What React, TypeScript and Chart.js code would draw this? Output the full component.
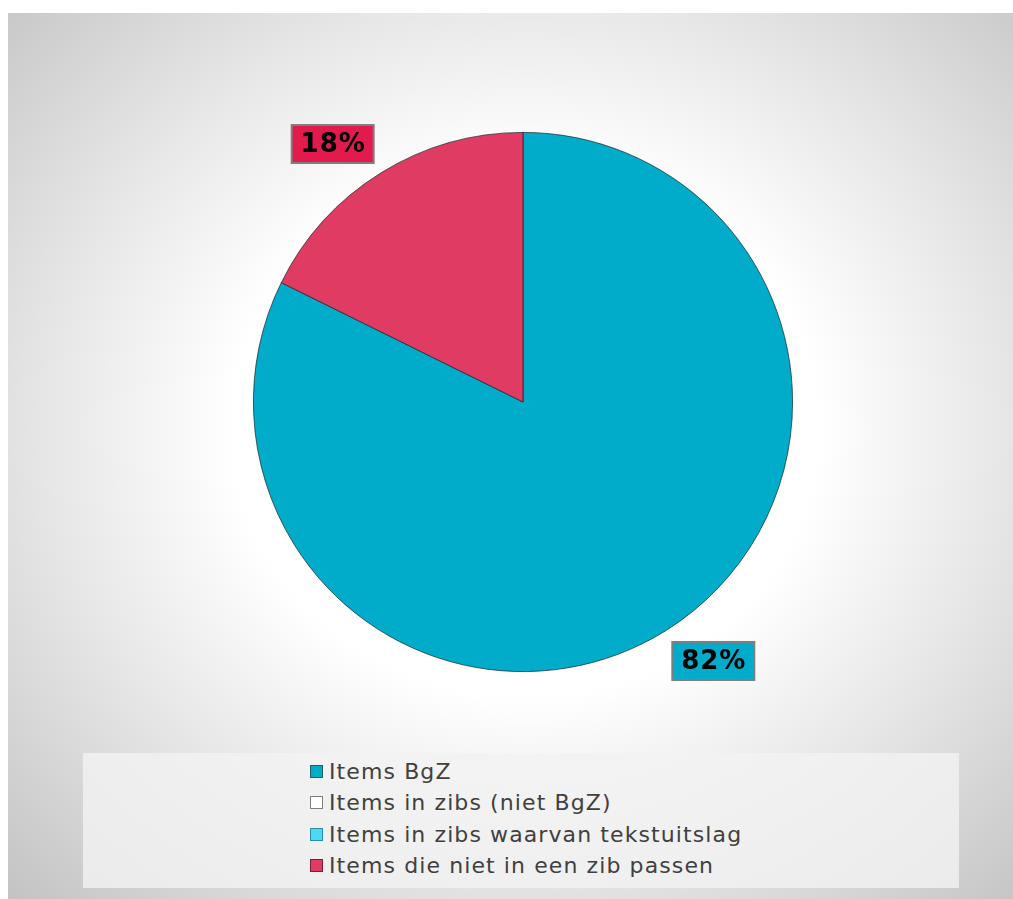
import React, { useEffect, useRef } from "react";
import { Chart, registerables } from "chart.js";

Chart.register(...registerables);

const categories = [
  "Items BgZ",
  "Items in zibs (niet BgZ)",
  "Items in zibs waarvan tekstuitslag",
  "Items die niet in een zib passen",
];
const values = [82.3, 0, 0, 17.7];
const sliceColors = ["#00ACC9", "#FFFFFF", "#4DD9F5", "#E03C63"];
const labelBoxColors = ["#00ACC9", "#FFFFFF", "#4DD9F5", "#E21A4D"];
const legendBorderColors = ["#1f5f6b", "#7f7f7f", "#2a8fa3", "#7a2035"];

const FONT = "'DejaVu Sans', Verdana, sans-serif";

const labelPlugin = {
  id: "outsideLabels",
  afterDatasetsDraw(chart: any) {
    const ctx = chart.ctx;
    const meta = chart.getDatasetMeta(0);
    const data = chart.data.datasets[0].data as number[];
    const total = data.reduce((a, b) => a + b, 0);
    meta.data.forEach((arc: any, i: number) => {
      const v = data[i];
      if (!v) return;
      const p = arc.getProps(["x", "y", "startAngle", "endAngle", "outerRadius"], true);
      const mid = (p.startAngle + p.endAngle) / 2;
      const px = p.x + Math.cos(mid) * p.outerRadius;
      const py = p.y + Math.sin(mid) * p.outerRadius;
      const w = 82;
      const h = 38;
      const left = Math.cos(mid) >= 0 ? px + 7 : px - 7 - w;
      const top = Math.sin(mid) >= 0 ? py + 11 : py - 10 - h;
      ctx.save();
      ctx.fillStyle = labelBoxColors[i];
      ctx.fillRect(left, top, w, h);
      ctx.lineWidth = 2;
      ctx.strokeStyle = "#7f7f7f";
      ctx.strokeRect(left, top, w, h);
      ctx.fillStyle = "#000";
      ctx.font = `bold 26px ${FONT}`;
      (ctx as any).letterSpacing = "1px";
      ctx.textAlign = "center";
      ctx.textBaseline = "middle";
      ctx.fillText(`${Math.round((v / total) * 100)}%`, left + w / 2 + 0.5, top + h / 2 + 1);
      ctx.restore();
    });
  },
};

export default function App() {
  const ref = useRef<HTMLCanvasElement>(null);
  useEffect(() => {
    if (!ref.current) return;
    const chart = new Chart(ref.current, {
      type: "pie",
      data: {
        labels: categories,
        datasets: [
          {
            data: values,
            backgroundColor: sliceColors,
            borderColor: "rgba(20,30,35,0.85)",
            borderWidth: 0.8,
          },
        ],
      },
      options: {
        responsive: false,
        animation: false,
        layout: { padding: { top: 119, bottom: 81, left: 25, right: 0 } },
        plugins: {
          legend: { display: false },
          tooltip: { enabled: false },
        },
      },
      plugins: [labelPlugin],
    });
    return () => chart.destroy();
  }, []);

  return (
    <div
      style={{
        position: "absolute",
        left: 8,
        top: 13,
        width: 1005,
        height: 886,
        background:
          "radial-gradient(ellipse farthest-corner at 51.5% 47%, #ffffff 0%, #ffffff 40%, #e8e8e8 64%, #c3c3c3 100%)",
        fontFamily: FONT,
        overflow: "hidden",
      }}
    >
      <canvas ref={ref} width={1005} height={740} style={{ position: "absolute", left: 0, top: 0 }} />
      <div
        style={{
          position: "absolute",
          left: 75,
          top: 740,
          width: 876,
          height: 135,
          background: "rgba(242,242,242,0.8)",
        }}
      >
        {categories.map((c, i) => (
          <div
            key={c}
            style={{
              position: "absolute",
              left: 227,
              top: 3 + i * 31.6,
              height: 30,
              display: "flex",
              alignItems: "center",
              whiteSpace: "nowrap",
            }}
          >
            <span
              style={{
                display: "inline-block",
                width: 11,
                height: 11,
                background: sliceColors[i],
                border: `1px solid ${legendBorderColors[i]}`,
                marginRight: 6,
              }}
            />
            <span style={{ fontSize: 22, letterSpacing: "1.1px", color: "#404040" }}>{c}</span>
          </div>
        ))}
      </div>
    </div>
  );
}
